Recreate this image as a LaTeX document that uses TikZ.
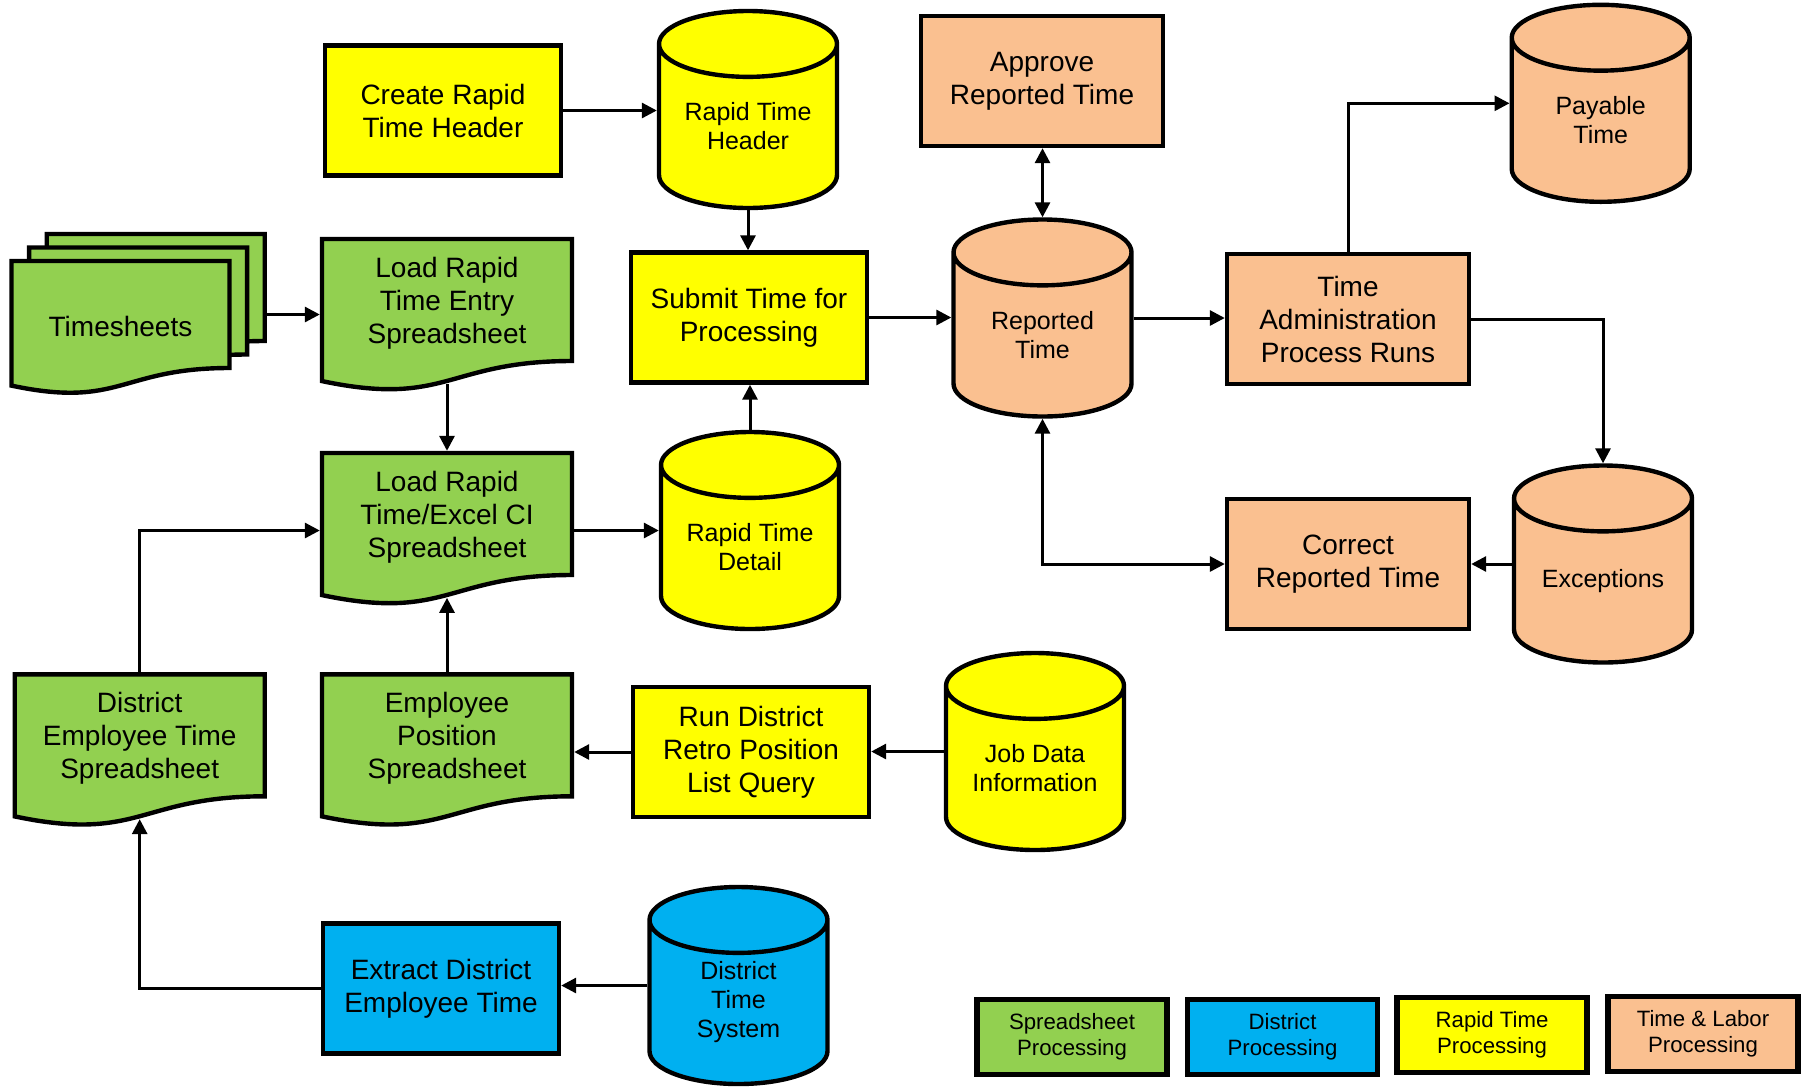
\documentclass[tikz,border=0pt]{standalone}
\usepackage{fontspec}
\setmainfont{Liberation Sans}
\usetikzlibrary{arrows.meta,shadows}
\definecolor{sheetgreen}{HTML}{92D050}
\definecolor{distblue}{HTML}{00B0F0}
\definecolor{rapidyellow}{HTML}{FFFF00}
\definecolor{laborpeach}{HTML}{FAC090}
\makeatletter
\newdimen\shpl\newdimen\shpr\newdimen\shpt\newdimen\shpb
\newdimen\shpm\newdimen\shpc\newdimen\shpe
% sheet with a wavy lower edge, south is the middle of the wave
\pgfdeclareshape{docsheet}{
  \inheritsavedanchors[from=rectangle]
  \inheritanchorborder[from=rectangle]
  \inheritanchor[from=rectangle]{center}
  \inheritanchor[from=rectangle]{north}
  \inheritanchor[from=rectangle]{west}
  \inheritanchor[from=rectangle]{east}
  \inheritanchor[from=rectangle]{north west}
  \inheritanchor[from=rectangle]{north east}
  \anchor{text}{\pgfqpoint{0pt}{-1.5pt}}
  \anchor{south}{%
    \southwest \shpl=\pgf@x \shpb=\pgf@y
    \northeast \shpr=\pgf@x \shpt=\pgf@y
    \pgf@x=.5\shpl \advance\pgf@x by .5\shpr
    \pgf@y=\shpb \advance\pgf@y by -\shpt
    \pgf@y=1.1633\pgf@y \advance\pgf@y by \shpt
  }
  \backgroundpath{%
    \southwest \shpl=\pgf@x \shpb=\pgf@y
    \northeast \shpr=\pgf@x \shpt=\pgf@y
    \pgfmathsetlength\pgf@xa{\pgfkeysvalueof{/pgf/outer xsep}}%
    \pgfmathsetlength\pgf@ya{\pgfkeysvalueof{/pgf/outer ysep}}%
    \advance\shpl by \pgf@xa \advance\shpr by -\pgf@xa
    \advance\shpb by \pgf@ya \advance\shpt by -\pgf@ya
    \shpm=.5\shpl \advance\shpm by .5\shpr
    \shpc=\shpb \advance\shpc by -\shpt
    \shpe=1.1646\shpc \advance\shpe by \shpt
    \shpc=1.3809\shpc \advance\shpc by \shpt
    \pgfpathmoveto{\pgfqpoint{\shpl}{\shpt}}%
    \pgfpathlineto{\pgfqpoint{\shpr}{\shpt}}%
    \pgfpathlineto{\pgfqpoint{\shpr}{\shpb}}%
    \pgfpathcurveto{\pgfqpoint{\shpm}{\shpb}}{\pgfqpoint{\shpm}{\shpc}}{\pgfqpoint{\shpl}{\shpe}}%
    \pgfpathclose
  }
}
% data store drawn as a standing cylinder
\pgfdeclareshape{store}{
  \inheritsavedanchors[from=rectangle]
  \inheritanchorborder[from=rectangle]
  \inheritanchor[from=rectangle]{center}
  \inheritanchor[from=rectangle]{north}
  \inheritanchor[from=rectangle]{south}
  \inheritanchor[from=rectangle]{west}
  \inheritanchor[from=rectangle]{east}
  \anchor{text}{%
    \southwest \shpl=\pgf@x
    \northeast \shpr=\pgf@x
    \pgf@y=\shpl \advance\pgf@y by -\shpr
    \pgf@y=.093\pgf@y
    \pgf@x=0pt
  }
  \backgroundpath{%
    \southwest \shpl=\pgf@x \shpb=\pgf@y
    \northeast \shpr=\pgf@x \shpt=\pgf@y
    \pgfmathsetlength\pgf@xa{\pgfkeysvalueof{/pgf/outer xsep}}%
    \pgfmathsetlength\pgf@ya{\pgfkeysvalueof{/pgf/outer ysep}}%
    \advance\shpl by \pgf@xa \advance\shpr by -\pgf@xa
    \advance\shpb by \pgf@ya \advance\shpt by -\pgf@ya
    \shpm=.5\shpr \advance\shpm by -.5\shpl
    \shpc=.37\shpm
    \shpe=\shpt \advance\shpe by -\shpc
    \pgfpathmoveto{\pgfqpoint{\shpl}{\shpe}}%
    \pgfpatharc{180}{0}{\the\shpm and \the\shpc}%
    \shpe=\shpb \advance\shpe by \shpc
    \pgfpathlineto{\pgfqpoint{\shpr}{\shpe}}%
    \pgfpatharc{0}{-180}{\the\shpm and \the\shpc}%
    \pgfpathclose
    \shpe=\shpt \advance\shpe by -\shpc
    \pgfpathmoveto{\pgfqpoint{\shpr}{\shpe}}%
    \pgfpatharc{0}{-180}{\the\shpm and \the\shpc}%
  }
}
\makeatother
\tikzset{
  proc/.style={draw,line width=2.2pt,minimum width=118pt,minimum height=65pt,align=center,font=\fontsize{14}{16.5}\selectfont},
  sheet/.style={docsheet,draw,fill=sheetgreen,line width=2.2pt,minimum width=125pt,minimum height=61pt,align=center,font=\fontsize{14}{16.5}\selectfont},
  db/.style={store,draw,line width=2.2pt,minimum width=89pt,minimum height=98.5pt,align=center,font=\fontsize{12.5}{14.5}\selectfont},
  key/.style={draw,line width=2.6pt,minimum width=95pt,minimum height=37.5pt,align=center,font=\fontsize{11.1}{13.2}\selectfont},
  flow/.style={line width=1.5pt,->},
  flows/.style={line width=1.5pt,<->}
}
\begin{document}
\begin{tikzpicture}[x=0.5pt,y=-0.5pt,>={Triangle[length=7.5pt,width=7.5pt]}]
\useasboundingbox (0,0) rectangle (1807,1088);
\node[proc,fill=rapidyellow] (create) at (443,110.5) {Create Rapid\\Time Header};
\node[db,fill=rapidyellow] (rth) at (748,109.5) {Rapid Time\\Header};
\node[proc,fill=rapidyellow] (submit) at (749,317.5) {Submit Time for\\Processing};
\node[db,fill=rapidyellow] (rtd) at (750,530.5) {Rapid Time\\Detail};
\node[sheet,minimum width=109pt,minimum height=53.5pt,text height=19.5pt,
  copy shadow={shadow xshift=17.6pt,shadow yshift=13.5pt,draw=black,fill=sheetgreen},
  copy shadow={shadow xshift=8.8pt,shadow yshift=6.75pt,draw=black,fill=sheetgreen}]
  (ts) at (120.5,314.5) {Timesheets};
\node[sheet] (lrte) at (447,300) {Load Rapid\\Time Entry\\Spreadsheet};
\node[sheet] (lrx) at (447,514) {Load Rapid\\Time/Excel CI\\Spreadsheet};
\node[sheet] (dets) at (139.7,735.3) {District\\Employee Time\\Spreadsheet};
\node[sheet] (eps) at (447,735.3) {Employee\\Position\\Spreadsheet};
\node[proc,fill=rapidyellow] (run) at (751,752) {Run District\\Retro Position\\List Query};
\node[db,fill=rapidyellow] (job) at (1035,751.5) {Job Data\\Information};
\node[proc,fill=distblue] (extract) at (441,988.5) {Extract District\\Employee Time};
\node[db,fill=distblue] (dts) at (738.5,985.5) {District\\Time\\System};
\node[proc,fill=laborpeach,minimum width=121pt] (approve) at (1042,81) {Approve\\Reported Time};
\node[db,fill=laborpeach] (rep) at (1042.5,318) {Reported\\Time};
\node[proc,fill=laborpeach,minimum width=121pt] (tapr) at (1348,319) {Time\\Administration\\Process Runs};
\node[db,fill=laborpeach] (pay) at (1600.7,103.3) {Payable\\Time};
\node[db,fill=laborpeach] (exc) at (1603,564) {Exceptions};
\node[proc,fill=laborpeach,minimum width=121pt] (correct) at (1348,564) {Correct\\Reported Time};
\node[key,fill=sheetgreen] (k1) at (1072,1037) {Spreadsheet\\Processing};
\node[key,fill=distblue] (k2) at (1282.5,1037) {District\\Processing};
\node[key,fill=rapidyellow] (k3) at (1492,1035) {Rapid Time\\Processing};
\node[key,fill=laborpeach] (k4) at (1703,1034) {Time \& Labor\\Processing};
\draw[flow](create.east)--(create.east-|rth.west);
\draw[flow](rth.south)--(rth.south|-submit.north);
\draw[flow](rtd.north)--(rtd.north|-submit.south);
\draw[flow](submit.east)--(submit.east-|rep.west);
\draw[flows](rep.north)--(rep.north|-approve.south);
\draw[flow](rep.east)--(rep.east-|tapr.west);
\draw[flow](tapr.north)|-(pay.west);
\draw[flow](tapr.east)-|(exc.north);
\draw[flow](exc.west)--(exc.west-|correct.east);
\draw[flows](rep.south)|-(correct.west);
\draw[flow]([xshift=17.6pt]ts.east)--(ts.east-|lrte.west);
\draw[flow](lrte.south)--(lrte.south|-lrx.north);
\draw[flow](lrx.east|-rtd.west)--(rtd.west);
\draw[flow](dets.north)|-(lrx.west|-rtd.west);
\draw[flow](eps.north)--(eps.north|-lrx.south);
\draw[flow](run.west)--(run.west-|eps.east);
\draw[flow](job.west)--(job.west-|run.east);
\draw[flow](dts.west)--(dts.west-|extract.east);
\draw[flow](extract.west)-|(dets.south);
\end{tikzpicture}
\end{document}
